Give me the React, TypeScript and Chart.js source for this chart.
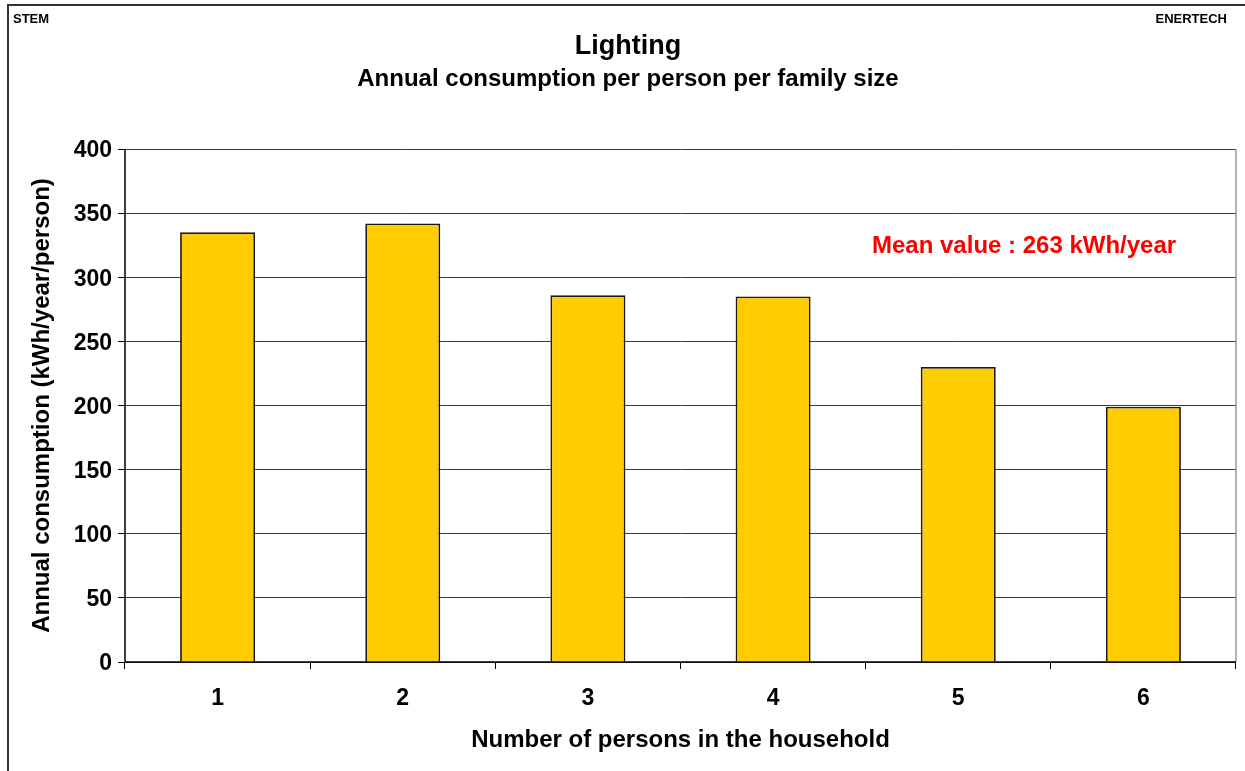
import React, { useEffect, useRef } from "react";
import { Chart, registerables } from "chart.js";

Chart.register(...registerables);

const categories = ["1", "2", "3", "4", "5", "6"];
const consumption = [335, 342, 286, 285, 230, 199];
const yTicks = [0, 50, 100, 150, 200, 250, 300, 350, 400];
const titleText = "Lighting";
const subtitleText = "Annual consumption per person per family size";
const yTitle = "Annual consumption (kWh/year/person)";
const xTitle = "Number of persons in the household";
const meanNote = "Mean value : 263 kWh/year";
const leftNote = "STEM";
const rightNote = "ENERTECH";

const FONT = "'Liberation Sans', Arial, Helvetica, sans-serif";

export default function App() {
  const ref = useRef<HTMLCanvasElement | null>(null);
  useEffect(() => {
    document.body.style.margin = "0";
    const canvas = ref.current!;
    const decor = {
      id: "decor",
      beforeDraw(chart: any) {
        const ctx = chart.ctx;
        ctx.save();
        ctx.fillStyle = "#ffffff";
        ctx.fillRect(0, 0, chart.width, chart.height);
        ctx.restore();
      },
      afterDraw(chart: any) {
        const ctx = chart.ctx;
        const ca = chart.chartArea;
        ctx.save();
        // frame
        ctx.strokeStyle = "#333333";
        ctx.lineWidth = 2;
        ctx.beginPath();
        ctx.moveTo(8, chart.height);
        ctx.lineTo(8, 5);
        ctx.lineTo(chart.width, 5);
        ctx.stroke();
        // plot border right (gray)
        ctx.strokeStyle = "#9a9a9a";
        ctx.lineWidth = 1.5;
        ctx.beginPath();
        ctx.moveTo(ca.right, ca.top);
        ctx.lineTo(ca.right, ca.bottom);
        ctx.stroke();
        // axes lines
        ctx.strokeStyle = "#000000";
        ctx.lineWidth = 1.5;
        ctx.beginPath();
        ctx.moveTo(ca.left, ca.top);
        ctx.lineTo(ca.left, ca.bottom);
        ctx.lineTo(ca.right, ca.bottom);
        ctx.stroke();
        // texts
        ctx.fillStyle = "#000000";
        ctx.textBaseline = "alphabetic";
        ctx.textAlign = "left";
        ctx.font = `bold 13px ${FONT}`;
        ctx.fillText(leftNote, 13, 23);
        ctx.textAlign = "right";
        ctx.fillText(rightNote, 1227, 23);
        ctx.textAlign = "center";
        ctx.font = `bold 27px ${FONT}`;
        ctx.fillText(titleText, 628, 54);
        ctx.font = `bold 24px ${FONT}`;
        ctx.fillText(subtitleText, 628, 86);
        ctx.font = `bold 24px ${FONT}`;
        ctx.fillText(xTitle, (ca.left + ca.right) / 2, 747);
        ctx.save();
        ctx.translate(49, (ca.top + ca.bottom) / 2);
        ctx.rotate(-Math.PI / 2);
        ctx.fillText(yTitle, 0, 0);
        ctx.restore();
        ctx.fillStyle = "#ff0000";
        ctx.textAlign = "left";
        ctx.font = `bold 24px ${FONT}`;
        ctx.fillText(meanNote, 872, 253);
        ctx.restore();
      },
    };
    const chart = new Chart(canvas, {
      type: "bar",
      data: {
        labels: categories,
        datasets: [
          {
            data: consumption,
            backgroundColor: "#FFCC00",
            borderColor: "#1a1a1a",
            borderWidth: 1.8,
            barPercentage: 0.405,
            categoryPercentage: 1,
          },
        ],
      },
      options: {
        responsive: false,
        animation: false,
        layout: { padding: { left: 0, top: 149, right: 9, bottom: 0 } },
        plugins: {
          legend: { display: false },
          tooltip: { enabled: false },
          title: { display: false },
        },
        scales: {
          x: {
            grid: {
              display: true,
              drawOnChartArea: false,
              drawTicks: true,
              tickLength: 7,
              color: "#000000",
              lineWidth: 1,
              offset: true,
            },
            border: { display: false },
            ticks: {
              color: "#000000",
              font: { family: FONT, size: 23, weight: "bold" },
              padding: 16,
            },
            afterFit: (s: any) => {
              s.height = 109;
            },
          },
          y: {
            min: 0,
            max: 400,
            afterBuildTicks: (s: any) => {
              s.ticks = yTicks.map((v) => ({ value: v }));
            },
            grid: {
              color: "#3a3a3a",
              lineWidth: 1,
              tickLength: 7,
              tickColor: "#000000",
            },
            border: { display: false },
            ticks: {
              color: "#000000",
              font: { family: FONT, size: 23, weight: "bold" },
              padding: 6,
              labelOffset: 2,
            },
            afterFit: (s: any) => {
              s.width = 125;
            },
          },
        },
      },
      plugins: [decor],
    });
    return () => chart.destroy();
  }, []);
  return (
    <div style={{ position: "absolute", left: 0, top: 0, width: 1245, height: 771 }}>
      <canvas ref={ref} width={1245} height={771} style={{ width: 1245, height: 771, display: "block" }} />
    </div>
  );
}
